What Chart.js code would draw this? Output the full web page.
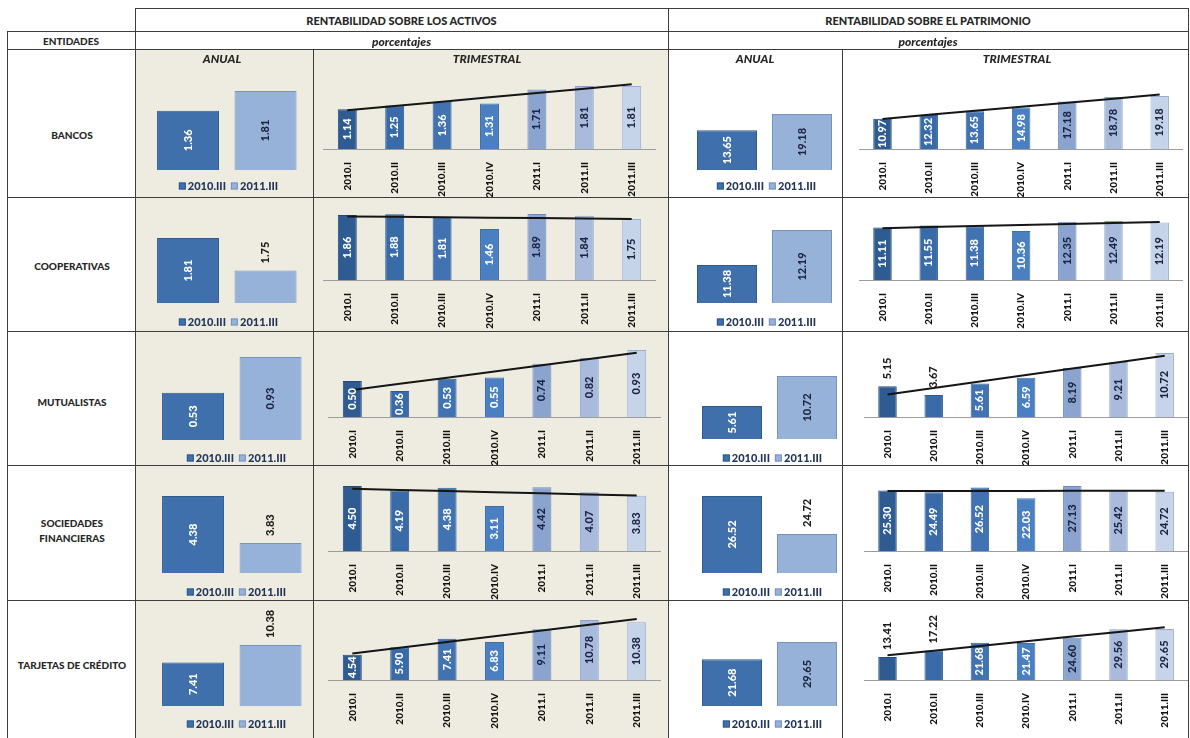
<!DOCTYPE html>
<html lang="es"><head><meta charset="utf-8"><title>Rentabilidad sobre activos y patrimonio</title>
<script src="https://cdn.jsdelivr.net/npm/chart.js@4.4.1/dist/chart.umd.min.js"></script>
<style>
html,body{margin:0;padding:0;background:#fff;}
#page{position:relative;width:1190px;height:738px;overflow:hidden;font-family:Lato,"Open Sans",sans-serif;}
.bg{position:absolute;background:#EEECE1;z-index:0;}
canvas{position:absolute;z-index:1;}
.h{position:absolute;height:1px;background:#3d3d3d;z-index:2;}
.v{position:absolute;width:1px;background:#3d3d3d;z-index:2;}
.t{position:absolute;z-index:3;font-weight:900;color:#262626;white-space:nowrap;transform:translate(-50%,-50%);text-align:center;line-height:15px;}
.leg{position:absolute;z-index:3;font-weight:900;font-size:11px;color:#22355a;white-space:nowrap;transform:translate(-50%,-50%);}
.leg i{display:inline-block;width:7px;height:7px;margin:0 2px 0 5px;box-sizing:border-box;}
</style></head>
<body><div id="page"></div>
<script>
// ---------- DATA ----------
const entidades = ['BANCOS','COOPERATIVAS','MUTUALISTAS','SOCIEDADES<br>FINANCIERAS','TARJETAS DE CRÉDITO'];
const trimestres = ['2010.I','2010.II','2010.III','2010.IV','2011.I','2011.II','2011.III'];
const periodosAnuales = ['2010.III','2011.III'];

// Rentabilidad sobre los activos (ROA) - trimestral
const roaTrimBancos       = [1.14, 1.25, 1.36, 1.31, 1.71, 1.81, 1.81];
const roaTrimCooperativas = [1.86, 1.88, 1.81, 1.46, 1.89, 1.84, 1.75];
const roaTrimMutualistas  = [0.50, 0.36, 0.53, 0.55, 0.74, 0.82, 0.93];
const roaTrimSociedades   = [4.50, 4.19, 4.38, 3.11, 4.42, 4.07, 3.83];
const roaTrimTarjetas     = [4.54, 5.90, 7.41, 6.83, 9.11, 10.78, 10.38];
// ROA - anual (2010.III, 2011.III)
const roaAnualBancos       = [1.36, 1.81];
const roaAnualCooperativas = [1.81, 1.75];
const roaAnualMutualistas  = [0.53, 0.93];
const roaAnualSociedades   = [4.38, 3.83];
const roaAnualTarjetas     = [7.41, 10.38];
// Rentabilidad sobre el patrimonio (ROE) - trimestral
const roeTrimBancos       = [10.97, 12.32, 13.65, 14.98, 17.18, 18.78, 19.18];
const roeTrimCooperativas = [11.11, 11.55, 11.38, 10.36, 12.35, 12.49, 12.19];
const roeTrimMutualistas  = [5.15, 3.67, 5.61, 6.59, 8.19, 9.21, 10.72];
const roeTrimSociedades   = [25.30, 24.49, 26.52, 22.03, 27.13, 25.42, 24.72];
const roeTrimTarjetas     = [13.41, 17.22, 21.68, 21.47, 24.60, 29.56, 29.65];
// ROE - anual (2010.III, 2011.III)
const roeAnualBancos       = [13.65, 19.18];
const roeAnualCooperativas = [11.38, 12.19];
const roeAnualMutualistas  = [5.61, 10.72];
const roeAnualSociedades   = [26.52, 24.72];
const roeAnualTarjetas     = [21.68, 29.65];

// axis minimum of the annual charts (as in the original)
const roaAnualEjeMin = [0, 1.69, 0, 3.48, 0];
const roeAnualEjeMin = [0, 10.5, 0, 22.87, 0];

// ---------- LAYOUT / STYLE ----------
const roaTrim  = [roaTrimBancos, roaTrimCooperativas, roaTrimMutualistas, roaTrimSociedades, roaTrimTarjetas];
const roaAnual = [roaAnualBancos, roaAnualCooperativas, roaAnualMutualistas, roaAnualSociedades, roaAnualTarjetas];
const roeTrim  = [roeTrimBancos, roeTrimCooperativas, roeTrimMutualistas, roeTrimSociedades, roeTrimTarjetas];
const roeAnual = [roeAnualBancos, roeAnualCooperativas, roeAnualMutualistas, roeAnualSociedades, roeAnualTarjetas];

const rowTop = [49, 197, 331, 465, 600];
const rowBot = [197, 331, 465, 600, 738];
const xShift = [0, 0, 5, 5, 5];
const geo = {
  roaA: {left:149.3, right:304.3, base:[170,303,440,573,706], top:[91,238,357,496,645]},
  roaT: {left:323.6, right:655.4, base:[149,280,417,551,680], top:[86,214,350,486,620]},
  roeA: {left:689.5, right:839.5, base:[170,303,439,573,706], top:[114,230,376,496,642]},
  roeT: {left:859.4, right:1182.8, base:[149,280,417,551,680], top:[96,221,353,486,629]}
};
const fuera = {
  roaA: [[],[1],[],[1],[1]],
  roeA: [[],[],[],[1],[]],
  roaT: [[],[],[],[],[]],
  roeT: [[],[],[0,1],[],[0,1]]
};
const trimColores = ['#2D5B92','#3A6BA9','#4172B1','#4A80C2','#8AA4CF','#A8BBDD','#C6D4EA'];
const trimBordes  = ['#24497A','#2F5A92','#355F98','#3D6EAA','#6F8BBB','#8AA2CA','#98ADD0'];
const trimTexto   = ['#fff','#fff','#fff','#fff','#1b2440','#1b2440','#1b2440'];
const anualColores = ['#4070AB','#97B2D9'];
const anualBordes  = ['#2E5A8C','#7892BF'];
const anualTexto   = ['#fff','#1b2440'];
const FONT = 'Lato';

const page = document.getElementById('page');
function addDiv(cls, css, html){const d=document.createElement('div');d.className=cls;d.style.cssText=css;if(html!==undefined)d.innerHTML=html;page.appendChild(d);return d;}

// background + grid of table
addDiv('bg','left:135px;top:49px;width:533px;height:689px;');
[[8,135,1188],[31,7,1188],[49,7,1188],[197,7,1188],[331,7,1188],[465,7,1188],[600,7,1188]]
  .forEach(([y,x1,x2])=>addDiv('h',`left:${x1}px;top:${y}px;width:${x2-x1+1}px;`));
[[7,31,738],[135,8,738],[313,49,738],[668,8,738],[842,49,738],[1188,8,738]]
  .forEach(([x,y1,y2])=>addDiv('v',`left:${x}px;top:${y1}px;height:${y2-y1}px;`));

function texto(txt,x,y,size,italic){addDiv('t',`left:${x}px;top:${y}px;font-size:${size}px;${italic?'font-style:italic;':''}`,txt);}
texto('RENTABILIDAD SOBRE LOS ACTIVOS',401.5,19.5,11);
texto('RENTABILIDAD SOBRE EL PATRIMONIO',928,19.5,11);
texto('ENTIDADES',71,40.5,10);
texto('porcentajes',401.5,40.5,12,true);
texto('porcentajes',928,40.5,12,true);
texto('ANUAL',222,58,12,true);
texto('TRIMESTRAL',487,58,12,true);
texto('ANUAL',755,58,12,true);
texto('TRIMESTRAL',1017,58,12,true);
const rowLabelY = [135, 266, 402, 530.5, 665];
entidades.forEach((e,i)=>texto(e,72,rowLabelY[i],10));

function leyenda(x,y){
  addDiv('leg',`left:${x}px;top:${y}px;`,
    `<i style="background:${anualColores[0]};border:1px solid ${anualBordes[0]}"></i>${periodosAnuales[0]}<i style="background:${anualColores[1]};border:1px solid ${anualBordes[1]}"></i>${periodosAnuales[1]}`);
}
const legY = [185, 321, 457, 591, 723];

// linear trend line (as the original Excel trendline)
function tendenciaLineal(v){
  const n=v.length, mx=(n-1)/2, my=v.reduce((a,b)=>a+b,0)/n;
  let sxy=0,sxx=0; v.forEach((y,i)=>{sxy+=(i-mx)*(y-my);sxx+=(i-mx)*(i-mx);});
  const b=sxy/sxx; return v.map((_,i)=>my+b*(i-mx));
}

function etiquetasPlugin(outIdx, colores){
  return {
    id:'etiquetas',
    afterDatasetsDraw(chart){
      const ctx=chart.ctx, area=chart.chartArea;
      const di=chart.data.datasets.findIndex(d=>(d.type||'bar')==='bar');
      const meta=chart.getDatasetMeta(di), ds=chart.data.datasets[di];
      ctx.save();
      ctx.font=`900 11px ${FONT}`;
      ctx.textBaseline='middle';
      meta.data.forEach((el,i)=>{
        const txt=ds.data[i].toFixed(2);
        const base=Math.min(el.base, area.bottom);
        ctx.save();
        if(outIdx.includes(i)){
          ctx.translate(el.x, el.y-7); ctx.rotate(-Math.PI/2);
          ctx.textAlign='left'; ctx.fillStyle='#1a1a1a';
        } else {
          ctx.translate(el.x,(el.y+base)/2); ctx.rotate(-Math.PI/2);
          ctx.textAlign='center'; ctx.fillStyle=colores[i];
        }
        ctx.fillText(txt,0,0);
        ctx.restore();
      });
      ctx.restore();
    }
  };
}

function crearCanvas(left,top,w,h){
  const c=document.createElement('canvas');
  c.width=w; c.height=h;
  c.style.left=left+'px'; c.style.top=top+'px';
  c.style.width=w+'px'; c.style.height=h+'px';
  page.appendChild(c); return c;
}

function graficoAnual(key, r, vals, eMin){
  const g=geo[key], s=xShift[r];
  const L=Math.round(g.left-20+s), W=Math.round(g.right-g.left+40);
  const H=rowBot[r]-rowTop[r];
  const c=crearCanvas(L,rowTop[r],W,H);
  const padL=(g.left+s)-L;
  new Chart(c,{
    type:'bar',
    data:{labels:periodosAnuales,datasets:[{data:vals,backgroundColor:anualColores,borderColor:anualBordes,borderWidth:1,barPercentage:0.8,categoryPercentage:1}]},
    options:{responsive:false,animation:false,devicePixelRatio:1,
      layout:{padding:{left:padL,right:W-padL-(g.right-g.left),top:g.top[r]-rowTop[r],bottom:rowBot[r]-g.base[r]}},
      plugins:{legend:{display:false},tooltip:{enabled:false}},
      scales:{x:{display:false,offset:true},y:{display:false,min:eMin,max:Math.max(...vals)}}},
    plugins:[etiquetasPlugin(fuera[key][r],anualTexto)]
  });
}

function graficoTrim(key, r, vals){
  const g=geo[key], s=xShift[r];
  const L=Math.round(g.left-20+s), W=Math.round(g.right-g.left+40);
  const H=rowBot[r]-rowTop[r];
  const c=crearCanvas(L,rowTop[r],W,H);
  const padL=(g.left+s)-L;
  const axisH=rowBot[r]-g.base[r];
  new Chart(c,{
    type:'bar',
    data:{labels:trimestres,datasets:[
      {type:'line',data:tendenciaLineal(vals),borderColor:'#151515',borderWidth:2,pointRadius:0,clip:false,order:0,tension:0},
      {type:'bar',data:vals,backgroundColor:trimColores,borderColor:trimBordes,borderWidth:1,barPercentage:0.4,categoryPercentage:1,order:1}
    ]},
    options:{responsive:false,animation:false,devicePixelRatio:1,
      layout:{padding:{left:padL,right:W-padL-(g.right-g.left),top:g.top[r]-rowTop[r],bottom:0}},
      plugins:{legend:{display:false},tooltip:{enabled:false}},
      scales:{
        x:{offset:true,grid:{display:false},border:{display:true,color:'#9c9c9c',width:1},
           ticks:{minRotation:90,maxRotation:90,autoSkip:false,padding:5,color:'#111',font:{family:FONT,weight:'900',size:10}},
           afterFit:(sc)=>{sc.height=axisH;}},
        y:{display:false,min:0,max:Math.max(...vals)}
      }},
    plugins:[etiquetasPlugin(fuera[key][r],trimTexto)]
  });
}

for(let r=0;r<5;r++){
  graficoAnual('roaA',r,roaAnual[r],roaAnualEjeMin[r]);
  graficoTrim('roaT',r,roaTrim[r]);
  graficoAnual('roeA',r,roeAnual[r],roeAnualEjeMin[r]);
  graficoTrim('roeT',r,roeTrim[r]);
  leyenda(226+xShift[r]*1.6,legY[r]);
  leyenda(764+xShift[r]*1.2,legY[r]);
}
</script></body></html>
